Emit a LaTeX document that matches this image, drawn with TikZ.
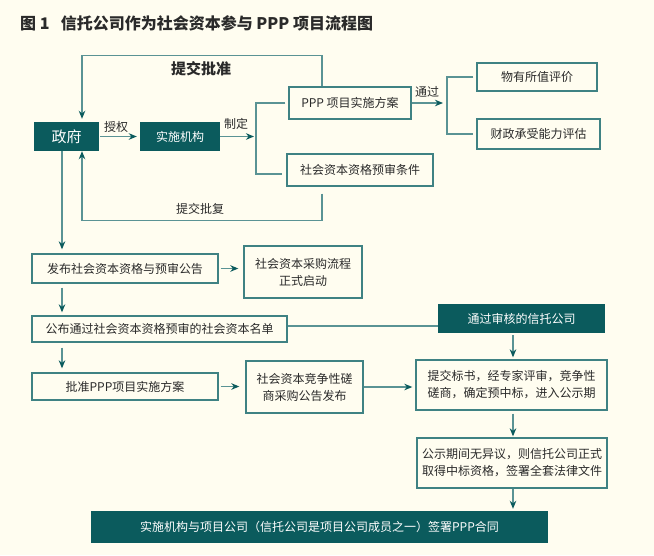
\documentclass[tikz,border=0pt]{standalone}
\usepackage{fontspec}
\setmainfont{Noto Sans CJK SC}
\usetikzlibrary{arrows.meta}
\definecolor{bg}{HTML}{FFFDF0}
\definecolor{darkteal}{HTML}{0B5B5D}
\definecolor{edge}{HTML}{3F8283}
\definecolor{linec}{HTML}{5A9394}
\definecolor{txt}{HTML}{2A2A2A}
\tikzset{
  box/.style={draw=edge, line width=1.3pt, fill=bg, text=txt, inner sep=0pt, align=center, font=\fontsize{12}{17}\selectfont},
  dark/.style={fill=darkteal, draw=none, text=white, inner sep=0pt, align=center, font=\fontsize{12}{17}\selectfont},
  conn/.style={draw=linec, line width=1.3pt},
  arr/.style={conn, -{Stealth[length=8pt,width=6.5pt,inset=2.5pt,color=darkteal]}},
  lbl/.style={text=txt, inner sep=0pt, font=\fontsize{12}{14}\selectfont}
}
\begin{document}
\begin{tikzpicture}[x=1pt,y=-1pt]
\fill[bg] (0,0) rectangle (654,555);
\useasboundingbox (0,0) rectangle (654,555);
% title
\node[anchor=west, text=txt, inner sep=0pt, font=\fontsize{16}{18}\selectfont\bfseries] (title) at (20,23) {图 1\hspace{0.7em}信托公司作为社会资本参与 PPP 项目流程图};
% nodes
\node[dark, minimum width=65pt, minimum height=29pt, font=\fontsize{15}{17}\selectfont] (gov) at (66.5,136.5) {政府};
\node[dark, minimum width=80pt, minimum height=29pt] (agency) at (180,136.5) {实施机构};
\node[box, minimum width=122pt, minimum height=32pt] (ppp) at (350,103) {PPP 项目实施方案};
\node[box, minimum width=146pt, minimum height=32pt] (cond) at (360,170) {社会资本资格预审条件};
\node[box, minimum width=120pt, minimum height=28pt] (vfm) at (537,77) {物有所值评价};
\node[box, minimum width=123pt, minimum height=30pt] (fin) at (538.5,134) {财政承受能力评估};
\node[box, minimum width=186pt, minimum height=29pt] (pub) at (125,268.5) {发布社会资本资格与预审公告};
\node[box, minimum width=118pt, minimum height=52pt] (start) at (303,272) {社会资本采购流程\\正式启动};
\node[box, minimum width=255pt, minimum height=26pt] (list) at (159.5,329) {公布通过社会资本资格预审的社会资本名单};
\node[box, minimum width=186pt, minimum height=27pt] (approve) at (125,386.5) {批准PPP项目实施方案};
\node[box, minimum width=117pt, minimum height=52pt] (notice) at (304.5,387) {社会资本竞争性磋\\商采购公告发布};
\node[dark, minimum width=167pt, minimum height=29pt] (trust) at (521.5,318.5) {通过审核的信托公司};
\node[box, minimum width=191pt, minimum height=50pt] (bid) at (511.5,385) {提交标书，经专家评审，竞争性\\磋商，确定预中标，进入公示期};
\node[box, minimum width=190pt, minimum height=50pt] (period) at (512,463) {公示期间无异议，则信托公司正式\\取得中标资格，签署全套法律文件};
\node[dark, minimum width=457pt, minimum height=32pt] (final) at (319.5,527) {实施机构与项目公司（信托公司是项目公司成员之一）签署PPP合同};
% labels
\node[lbl, font=\fontsize{15}{17}\selectfont\bfseries] (l1) at (201,69) {提交批准};
\node[lbl] (l2) at (200,209) {提交批复};
\node[lbl] (l3) at (116,127) {授权};
\node[lbl] (l4) at (236,124) {制定};
\node[lbl] (l5) at (427,92) {通过};
% helper coordinates
\coordinate (br1) at (256,136.5);
\coordinate (br2) at (447,103);
\coordinate (cx) at (62,0);
\coordinate (tx) at (513,0);
% connectors
\draw[arr, shorten >=3pt] ([xshift=-28pt]ppp.north) -- ++(0,-31) -| ([xshift=15.5pt]gov.north);
\draw[arr, shorten <=7pt] ([xshift=-38pt]cond.south) -- ++(0,34) -| ([xshift=15.5pt]gov.south);
\draw[arr, shorten <=1pt, shorten >=3pt] (gov.east) -- (agency.west);
\draw[arr, shorten >=2pt] (agency.east) -- (br1);
\draw[conn] ([xshift=-3pt]ppp.west) -| (br1) |- ([xshift=-4pt,yshift=-4pt]cond.west);
\draw[arr, shorten >=4pt] (ppp.east) -- (br2);
\draw[conn] ([xshift=-3pt]vfm.west) -| (br2) |- ([xshift=-3pt]fin.west);
\draw[arr, shorten >=4pt] (gov.south -| cx) -- (pub.north -| cx);
\draw[arr, shorten <=2pt, shorten >=5pt] (pub.east) -- (pub.east -| start.west);
\draw[arr, shorten <=4pt, shorten >=3pt] (pub.south -| cx) -- (list.north -| cx);
\draw[arr, shorten <=5pt, shorten >=4pt] (list.south -| cx) -- (approve.north -| cx);
\draw[arr, shorten <=2pt, shorten >=6pt] (approve.east) -- (approve.east -| notice.west);
\draw[conn] ([yshift=3pt]list.east) -- ([yshift=3pt]list.east -| trust.west);
\draw[arr, shorten >=3pt] (notice.east) -- (notice.east -| bid.west);
\draw[arr, shorten <=2pt, shorten >=2pt] (trust.south -| tx) -- (bid.north -| tx);
\draw[arr, shorten <=3pt, shorten >=1pt] (bid.south -| tx) -- (period.north -| tx);
\draw[arr, shorten >=2pt] (period.south -| tx) -- (final.north -| tx);
\end{tikzpicture}
\end{document}
